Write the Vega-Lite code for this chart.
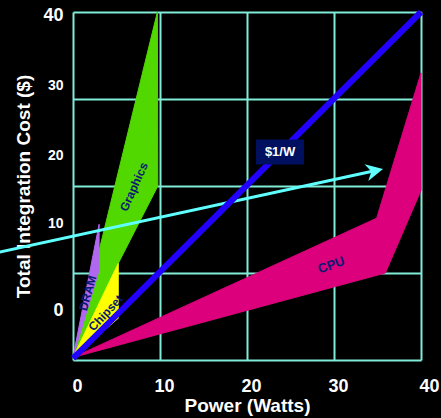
{
  "$schema": "https://vega.github.io/schema/vega-lite/v6.json",
  "width": 348,
  "height": 348,
  "autosize": {"type": "none"},
  "padding": {"left": 73, "top": 12, "right": 20, "bottom": 58},
  "background": "#000000",
  "config": {"view": {"stroke": null}, "font": "Liberation Sans"},
  "datasets": {
    "polys": [
      {"part": "CPU", "i": 0, "x": 0, "y": 0.3},
      {"part": "CPU", "i": 1, "x": 34.9, "y": 16.3},
      {"part": "CPU", "i": 2, "x": 40, "y": 33.0},
      {"part": "CPU", "i": 3, "x": 40, "y": 19.5},
      {"part": "CPU", "i": 4, "x": 35.9, "y": 10.0},
      {"part": "Graphics", "i": 0, "x": 0, "y": 0.3},
      {"part": "Graphics", "i": 1, "x": 9.7, "y": 40},
      {"part": "Graphics", "i": 2, "x": 9.75, "y": 20.0},
      {"part": "Graphics", "i": 3, "x": 5.2, "y": 11.1},
      {"part": "DRAM", "i": 0, "x": 0, "y": 0.3},
      {"part": "DRAM", "i": 1, "x": 3.0, "y": 15.6},
      {"part": "DRAM", "i": 2, "x": 3.0, "y": 10.3},
      {"part": "Chipset", "i": 0, "x": 0, "y": 0.3},
      {"part": "Chipset", "i": 1, "x": 5.2, "y": 11.1},
      {"part": "Chipset", "i": 2, "x": 5.2, "y": 4.8}
    ],
    "diag": [{"x": 0, "y": 0.2}, {"x": 40, "y": 40}],
    "arrow": [{"x": -8.5, "y": 12.39}, {"x": 34.68, "y": 21.75}],
    "labels": [
      {"label": "Graphics", "x": 7.0, "y": 19.9},
      {"label": "CPU", "x": 29.7, "y": 10.9},
      {"label": "Chipset", "x": 3.75, "y": 5.4},
      {"label": "DRAM", "x": 1.7, "y": 7.7},
      {"label": "$1/W", "x": 23.8, "y": 23.9}
    ]
  },
  "encoding": {
    "x": {
      "field": "x",
      "type": "quantitative",
      "scale": {"domain": [0, 40], "nice": false, "zero": false},
      "axis": {
        "values": [0, 10, 20, 30, 40],
        "grid": true,
        "gridColor": "#80ecd8",
        "gridWidth": 2,
        "gridOpacity": 1,
        "domain": false,
        "ticks": false,
        "labelColor": "#ffffff",
        "labelFont": "Liberation Sans",
        "labelFontWeight": "bold",
        "labelFontSize": 18,
        "labelPadding": 17,
        "labelOffset": {"condition": {"test": "datum.value == 40", "value": 8}, "value": 4},
        "labelFlush": false,
        "labelOverlap": false,
        "labelBound": false,
        "title": "Power (Watts)",
        "titleColor": "#ffffff",
        "titleFont": "Liberation Sans",
        "titleFontSize": 19,
        "titleFontWeight": "bold",
        "titlePadding": 1
      }
    },
    "y": {
      "field": "y",
      "type": "quantitative",
      "scale": {"domain": [0, 40], "nice": false, "zero": false},
      "axis": {
        "values": [0, 10, 20, 30, 40],
        "grid": true,
        "gridColor": "#80ecd8",
        "gridWidth": 2,
        "gridOpacity": 1,
        "domain": false,
        "ticks": false,
        "labelColor": "#ffffff",
        "labelFont": "Liberation Sans",
        "labelFontWeight": "bold",
        "labelFontSize": {"condition": {"test": "datum.value == 40 || datum.value == 0", "value": 18}, "value": 14},
        "labelOffset": {"condition": [
          {"test": "datum.value == 40", "value": 3},
          {"test": "datum.value == 30", "value": -14},
          {"test": "datum.value == 20", "value": -31},
          {"test": "datum.value <= 10", "value": -50}
        ], "value": 0},
        "labelPadding": 10,
        "labelFlush": false,
        "labelOverlap": false,
        "labelBound": false,
        "title": "Total Integration Cost ($)",
        "titleColor": "#ffffff",
        "titleFont": "Liberation Sans",
        "titleFontSize": 19,
        "titleFontWeight": "bold",
        "titlePadding": 9
      }
    }
  },
  "layer": [
    {
      "data": {"name": "polys"},
      "transform": [{"filter": "datum.part == 'CPU'"}],
      "mark": {"type": "line", "interpolate": "linear-closed", "fill": "#dd007c", "stroke": "#dd007c", "strokeWidth": 1},
      "encoding": {"order": {"field": "i"}}
    },
    {
      "data": {"name": "polys"},
      "transform": [{"filter": "datum.part == 'Graphics'"}],
      "mark": {"type": "line", "interpolate": "linear-closed", "fill": "#50d800", "stroke": "#50d800", "strokeWidth": 1},
      "encoding": {"order": {"field": "i"}}
    },
    {
      "data": {"name": "polys"},
      "transform": [{"filter": "datum.part == 'DRAM'"}],
      "mark": {"type": "line", "interpolate": "linear-closed", "fill": "#b068f0", "stroke": "#b068f0", "strokeWidth": 1},
      "encoding": {"order": {"field": "i"}}
    },
    {
      "data": {"name": "polys"},
      "transform": [{"filter": "datum.part == 'Chipset'"}],
      "mark": {"type": "line", "interpolate": "linear-closed", "fill": "#ffff00", "stroke": "#ffff00", "strokeWidth": 1},
      "encoding": {"order": {"field": "i"}}
    },
    {
      "data": {"name": "arrow"},
      "mark": {"type": "line", "stroke": "#60ffff", "strokeWidth": 3, "strokeCap": "butt"},
      "encoding": {}
    },
    {
      "data": {"name": "arrow"},
      "transform": [{"filter": "datum.x > 0"}],
      "mark": {"type": "point", "shape": "M1,0L-1,-1L-0.4,0L-1,1Z", "size": 289, "angle": -12.5, "filled": true, "color": "#60ffff", "opacity": 1, "strokeWidth": 0}
    },
    {
      "data": {"name": "diag"},
      "mark": {"type": "line", "stroke": "#2200ff", "strokeWidth": 6, "strokeCap": "butt"},
      "encoding": {}
    },
    {
      "data": {"name": "labels"},
      "transform": [{"filter": "datum.label == 'Graphics'"}],
      "mark": {"type": "text", "angle": -66, "font": "Liberation Sans", "fontWeight": "bold", "fontSize": 12, "color": "#0a1a70"},
      "encoding": {"text": {"field": "label"}}
    },
    {
      "data": {"name": "labels"},
      "transform": [{"filter": "datum.label == 'CPU'"}],
      "mark": {"type": "text", "angle": -20, "font": "Liberation Sans", "fontWeight": "bold", "fontSize": 13, "color": "#0a1a70"},
      "encoding": {"text": {"field": "label"}}
    },
    {
      "data": {"name": "labels"},
      "transform": [{"filter": "datum.label == 'Chipset'"}],
      "mark": {"type": "text", "angle": -47, "font": "Liberation Sans", "fontWeight": "bold", "fontSize": 12, "color": "#0a1a70"},
      "encoding": {"text": {"field": "label"}}
    },
    {
      "data": {"name": "labels"},
      "transform": [{"filter": "datum.label == 'DRAM'"}],
      "mark": {"type": "text", "angle": -74, "font": "Liberation Sans", "fontWeight": "bold", "fontSize": 12, "color": "#0a1a70"},
      "encoding": {"text": {"field": "label"}}
    },
    {
      "data": {"name": "labels"},
      "transform": [{"filter": "datum.label == '$1/W'"}],
      "mark": {"type": "point", "shape": "M-1,-0.52L1,-0.52L1,0.52L-1,0.52Z", "size": 2304, "filled": true, "color": "#001060", "opacity": 1, "strokeWidth": 0}
    },
    {
      "data": {"name": "labels"},
      "transform": [{"filter": "datum.label == '$1/W'"}],
      "mark": {"type": "text", "font": "Liberation Sans", "fontWeight": "bold", "fontSize": 13, "color": "#ffffff"},
      "encoding": {"text": {"field": "label"}}
    }
  ]
}
